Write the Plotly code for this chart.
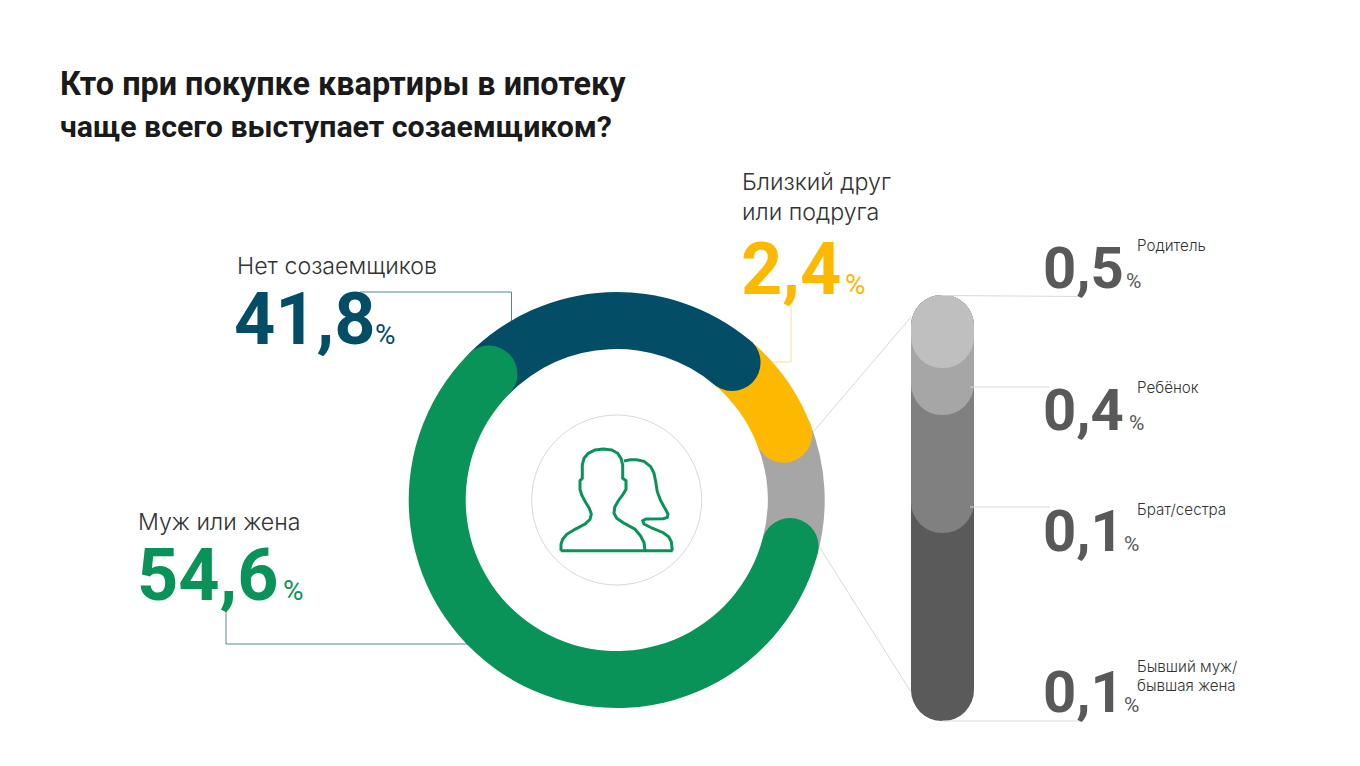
import math
import plotly.graph_objects as go

# ring: shares are the visible arcs as drawn in the picture, the printed figures are in main_values
ring_labels = ["Нет созаемщиков", "Близкий друг или подруга", "Другие родственники", "Муж или жена"]
ring_arcs = [85.4, 28.5, 36.5, 209.6]
ring_colors = ["#034e66", "#fdb900", "#a6a6a6", "#0a9359"]
ring_start = -45.4
ring_caps = [True, True, False, True]

main_labels = ["Нет созаемщиков", "Муж или жена", "Близкий друг", "или подруга"]
main_values = ["41,8", "54,6", "2,4"]
main_colors = ["#034e66", "#0a9359", "#fdb900"]

# grey column, lightest band on top
column_labels = ["Родитель", "Ребёнок", "Брат/сестра", "Бывший муж/бывшая жена"]
column_values = ["0,5", "0,4", "0,1", "0,1"]
column_bands = [73, 47, 118, 188]
column_colors = ["#bfbfbf", "#a6a6a6", "#808080", "#5a5a5a"]

title_lines = ["Кто при покупке квартиры в ипотеку", "чаще всего выступает созаемщиком?"]

W, H = 1360, 766
cx, cy = 616.7, 500
r_out, r_in = 208, 151
r_mid = (r_out + r_in) / 2
r_cap = (r_out - r_in) / 2

LABEL_FONT = "Inter"
NUM_FONT = "Roboto"

fig = go.Figure()

# leader lines
leaders = [
    ([360, 511.5, 511.5], [292, 292, 325], "#5b8796"),
    ([226, 226, 475], [610, 644, 644], "#5b8796"),
    ([791, 791, 770], [303, 362, 362], "#f6dfa3"),
    ([808, 911], [438, 317], "#d9d9d9"),
    ([815, 911], [540, 692], "#d9d9d9"),
    ([942, 1082], [295.5, 296.5], "#d9d9d9"),
    ([970, 1050], [387, 387], "#d9d9d9"),
    ([970, 1050], [507, 507], "#d9d9d9"),
    ([942, 1082], [721, 721], "#d9d9d9"),
]
for lx, ly, lc in leaders:
    fig.add_trace(go.Scatter(x=lx, y=ly, mode="lines", line=dict(color=lc, width=1), hoverinfo="skip"))

# column: overlapping capsules, darkest first (bars with a base round at both ends)
col_x, col_w, col_top = 942.5, 63, 295
heights = []
total = 0
for b in column_bands:
    total += b
    heights.append(total)
for i in reversed(range(len(column_bands))):
    fig.add_trace(go.Bar(
        x=[col_x], y=[heights[i]], base=[col_top], width=[col_w],
        marker=dict(color=column_colors[i], cornerradius=col_w / 2, line=dict(width=0)),
        name=column_labels[i],
    ))

fig.add_trace(go.Pie(
    labels=ring_labels,
    values=ring_arcs,
    marker=dict(colors=ring_colors, line=dict(width=0)),
    hole=r_in / r_out,
    sort=False,
    direction="clockwise",
    rotation=ring_start,
    textinfo="none",
    domain=dict(
        x=[(cx - r_out) / W, (cx + r_out) / W],
        y=[(H - cy - r_out) / H, (H - cy + r_out) / H],
    ),
))

shapes = []


def cap(angle, color):
    a = math.radians(angle)
    x0 = cx + r_mid * math.sin(a)
    y0 = cy - r_mid * math.cos(a)
    shapes.append(dict(type="circle", xref="x", yref="y", x0=x0 - r_cap, x1=x0 + r_cap,
                       y0=y0 - r_cap, y1=y0 + r_cap, fillcolor=color, line=dict(width=0)))


# round ends of the arcs
ang = ring_start
for arc, color, has_cap in zip(ring_arcs, ring_colors, ring_caps):
    ang += arc
    if has_cap:
        cap(ang, color)
cap(ring_start + sum(ring_arcs[:3]), ring_colors[3])

# circle and icon in the middle
shapes.append(dict(type="circle", xref="x", yref="y", x0=cx - 85, x1=cx + 85, y0=cy - 85, y1=cy + 85,
                   line=dict(color="#d9d9d9", width=1)))


def icon_path(points):
    pts = [(520 + px / 3, 410 + py / 3) for px, py in points]
    return "M" + " L".join(f"{px:.1f},{py:.1f}" for px, py in pts)


man = [(123, 422), (123, 403), (128, 388), (140, 373), (165, 358), (195, 342), (210, 328), (214, 312),
       (208, 295), (196, 275), (185, 255), (180, 238), (180, 212), (187, 205), (187, 165), (192, 145),
       (205, 130), (225, 120), (250, 117), (275, 120), (293, 130), (303, 145), (308, 165), (308, 205),
       (318, 212), (318, 238), (308, 255), (295, 272), (284, 292), (282, 310), (290, 325), (310, 338),
       (345, 358), (362, 378), (372, 398), (375, 422)]
woman = [(312, 153), (330, 149), (350, 149), (372, 154), (392, 170), (402, 190), (407, 215), (412, 245),
         (422, 272), (436, 297), (444, 312), (442, 322), (430, 326), (378, 327), (368, 332), (372, 342),
         (395, 354), (430, 368), (446, 380), (454, 395), (457, 422)]
bottom = [(122, 422), (458, 422)]
for part in (man, woman, bottom):
    shapes.append(dict(type="path", xref="x", yref="y", path=icon_path(part),
                       line=dict(color="#0a9359", width=3)))


annotations = []


def text(x, y, s, size, color, family=LABEL_FONT, weight=300):
    annotations.append(dict(x=x, y=y, xref="x", yref="y", text=s, showarrow=False, xanchor="left",
                            yanchor="middle", align="left", borderpad=0,
                            font=dict(family=family, size=size, color=color, weight=weight)))


def number(x, y, value, size, color, pct_x, pct_size):
    text(x, y, value, size, color, family=NUM_FONT, weight=700)
    text(pct_x, y + 0.36 * (size - pct_size), "%", pct_size, color, family=NUM_FONT, weight=400)


text(59, 84, title_lines[0], 32.4, "#1a1a1a", family="Roboto", weight=700)
text(59, 126, title_lines[1], 30.3, "#1a1a1a", family="Roboto", weight=700)

text(236, 266, main_labels[0], 23.2, "#333333")
number(233, 319, main_values[0], 72, main_colors[0], 374, 28)
text(137, 522, main_labels[1], 23.2, "#333333")
number(136, 575, main_values[1], 72, main_colors[1], 282, 28)
text(741, 182, main_labels[2], 23.2, "#333333")
text(741, 212, main_labels[3], 23.2, "#333333")
number(740, 269, main_values[2], 72, main_colors[2], 844, 28)

grey_num_y = [268, 409.5, 530.5, 692]
grey_pct_x = [1125, 1128, 1123, 1123]
for v, y, px in zip(column_values, grey_num_y, grey_pct_x):
    number(1042, y, v, 58, "#595959", px, 21)
text(1136, 245, column_labels[0], 15.2, "#333333")
text(1136, 387, column_labels[1], 15.2, "#333333")
text(1136, 509, column_labels[2], 15.2, "#333333")
text(1136, 666, "Бывший муж/", 15.2, "#333333")
text(1136, 685, "бывшая жена", 15.2, "#333333")

fig.update_layout(
    width=W,
    height=H,
    margin=dict(l=0, r=0, t=0, b=0),
    paper_bgcolor="white",
    plot_bgcolor="white",
    showlegend=False,
    barmode="overlay",
    xaxis=dict(range=[0, W], visible=False, domain=[0, 1], fixedrange=True),
    yaxis=dict(range=[H, 0], visible=False, domain=[0, 1], fixedrange=True),
    shapes=shapes,
    annotations=annotations,
)

fig.write_html("out.html", config=dict(displayModeBar=False), post_script="document.body.style.margin='0';")
